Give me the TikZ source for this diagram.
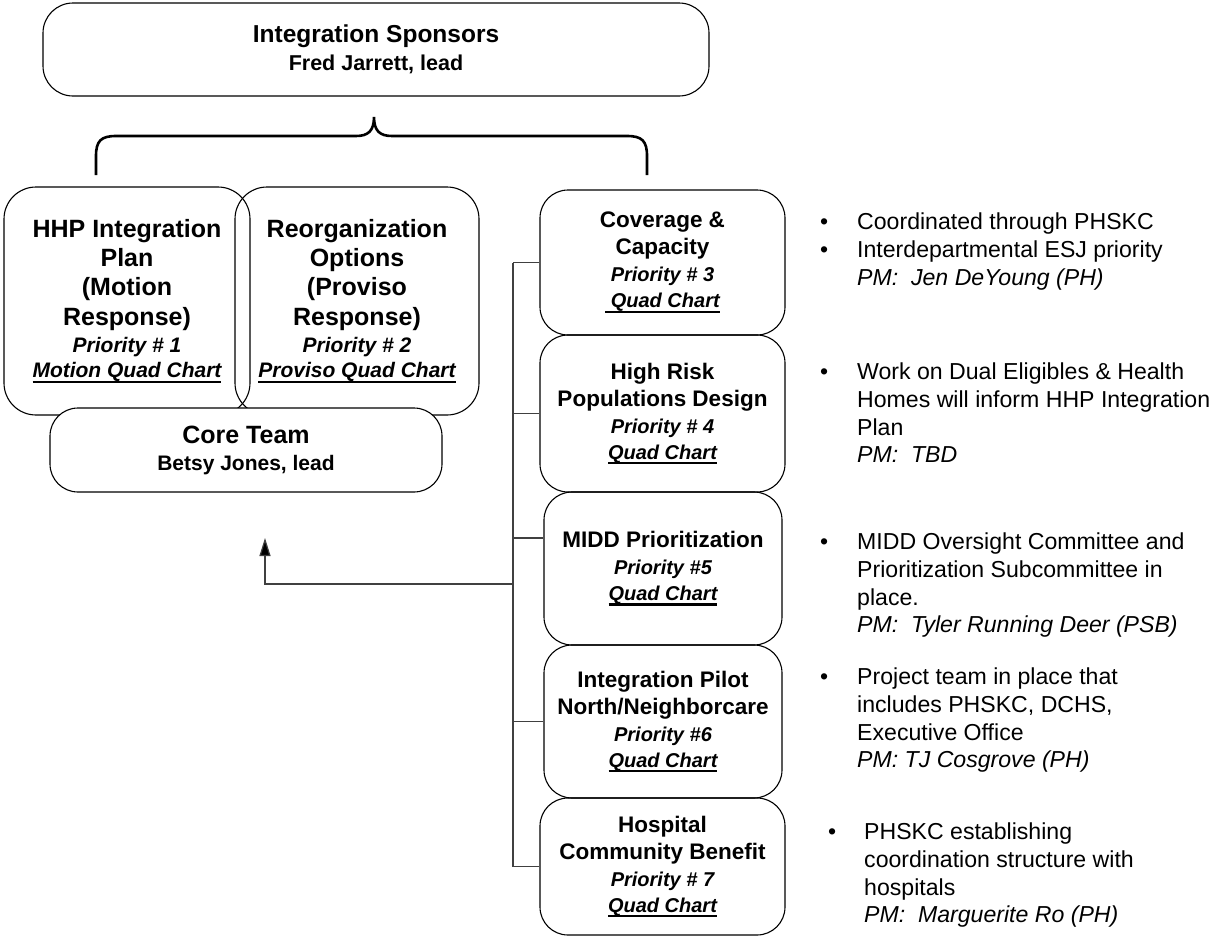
\documentclass[tikz,border=0pt]{standalone}
\usepackage{fontspec}
\setmainfont{Liberation Sans}
\usetikzlibrary{arrows.meta}

% underlined chart link
\newcommand\qchart[1]{\setbox0=\hbox{#1}\rlap{\rule[-5pt]{\wd0}{2.2pt}}\box0}
% hanging bullet
\newcommand\bul[1]{\llap{\textbullet\hspace{#1}}}
% type sizes
\newcommand\hbig{\fontsize{25}{29.3}\selectfont\bfseries}
\newcommand\hital{\fontsize{21}{25}\selectfont\bfseries\itshape}
\newcommand\rbig{\fontsize{22.5}{27}\selectfont\bfseries}
\newcommand\rital{\fontsize{20}{24}\selectfont\bfseries\itshape}

\begin{document}
\begin{tikzpicture}[x=1pt,y=-1pt,
  box/.style={draw, line width=1.1pt, rounded corners=28pt, align=center, inner sep=0pt},
  rbox/.style={box, minimum width=245, font=\rbig},
  conn/.style={draw=black!75, line width=1.2pt},
  brace/.style={draw, line width=2.6pt},
  note/.style={anchor=north west, align=left, inner sep=0pt, font=\fontsize{23.1}{27.6}\selectfont}]
\useasboundingbox (0,0) rectangle (1213,937);

% sponsors
\node[box, rounded corners=30pt, minimum width=666, minimum height=93,
      font=\fontsize{24.5}{28}\selectfont\bfseries] (spons) at (376,49.5)
  {Integration Sponsors\\ {\fontsize{21.5}{28}\selectfont Fred Jarrett, lead}};

% brace under the sponsors
\coordinate (bl) at (96,175);
\coordinate (br) at (647,175);
\coordinate (btip) at (374,117);
\draw[brace] (bl) -- (96,156) .. controls (96,141) and (101,136) .. (116,136)
  -- (356,136) .. controls (368,136) and (374,131) .. (btip)
  .. controls (374,131) and (380,136) .. (392,136)
  -- (627,136) .. controls (642,136) and (647,141) .. (647,156) -- (br);

% plan and reorganization boxes
\node[box, rounded corners=32pt, minimum width=246, minimum height=228, font=\hbig] (hhp) at (127,301)
  {HHP Integration\\ Plan\\ (Motion\\ Response)\\[-2pt] {\hital Priority \# 1}\\[-4pt] {\hital\qchart{Motion Quad Chart}}};
\node[box, rounded corners=32pt, minimum width=244, minimum height=228, font=\hbig] (reorg) at (357,301)
  {Reorganization\\ Options\\ (Proviso\\ Response)\\[-2pt] {\hital Priority \# 2}\\[-4pt] {\hital\qchart{Proviso Quad Chart}}};

% core team
\node[box, fill=white, rounded corners=28pt, minimum width=392, minimum height=84,
      font=\fontsize{25}{27}\selectfont\bfseries] (core) at (246,450)
  {Core Team\\ {\fontsize{21}{27}\selectfont Betsy Jones, lead}};

% priority boxes
\node[rbox, minimum height=145] (cov) at (662.5,262.5)
  {Coverage \&\\ Capacity\\ {\rital Priority \# 3}\\[-1pt] {\rital\qchart{\ Quad Chart}}};
\node[rbox, minimum height=157] (risk) at (662.5,413.5)
  {High Risk\\ Populations Design\\ {\rital Priority \# 4}\\[-1pt] {\rital\qchart{Quad Chart}}};
\node[rbox, minimum width=238, minimum height=153] (midd) at (663,568.5)
  {MIDD Prioritization\\ {\rital Priority \#5}\\[-1pt] {\rital\qchart{Quad Chart}}};
\node[rbox, minimum width=238, minimum height=153] (pilot) at (663,721.5)
  {Integration Pilot\\ North/Neighborcare\\ {\rital Priority \#6}\\[-1pt] {\rital\qchart{Quad Chart}}};
\node[rbox, minimum height=137] (hosp) at (662.5,866.5)
  {Hospital\\ Community Benefit\\ {\rital Priority \# 7}\\[-1pt] {\rital\qchart{Quad Chart}}};

% spine and branches
\coordinate (spx) at (513,0);
\coordinate (mj) at (513,538);
\coordinate (aj) at (513,584);
\coordinate (atip) at (265,538);
\draw[conn] (cov.west -| spx) -- (hosp.west -| spx);
\draw[conn] (cov.west -| spx) -- (cov.west);
\draw[conn] (risk.west -| spx) -- (risk.west);
\draw[conn] (mj) -- (mj -| midd.west);
\draw[conn] (pilot.west -| spx) -- (pilot.west);
\draw[conn] (hosp.west -| spx) -- (hosp.west);
\draw[conn, -{Triangle[length=18pt,width=11pt,fill=black]}] (aj) -| (atip);

% notes
\node[note] (n3) at (857,213)
  {\bul{29pt}Coordinated through PHSKC\\ \bul{29pt}Interdepartmental ESJ priority\\ \textit{PM:\ \ Jen DeYoung (PH)}};
\node[note] (n4) at (857,363)
  {\bul{29pt}Work on Dual Eligibles \& Health\\ Homes will inform HHP Integration\\ Plan\\ \textit{PM:\ \ TBD}};
\node[note] (n5) at (857,533)
  {\bul{29pt}MIDD Oversight Committee and\\ Prioritization Subcommittee in\\ place.\\ \textit{PM:\ \ Tyler Running Deer (PSB)}};
\node[note] (n6) at (857,668)
  {\bul{29pt}Project team in place that\\ includes PHSKC, DCHS,\\ Executive Office\\ \textit{PM: TJ Cosgrove (PH)}};
\node[note] (n7) at (864,823)
  {\bul{28pt}PHSKC establishing\\ coordination structure with\\ hospitals\\ \textit{PM:\ \ Marguerite Ro (PH)}};
\end{tikzpicture}
\end{document}
